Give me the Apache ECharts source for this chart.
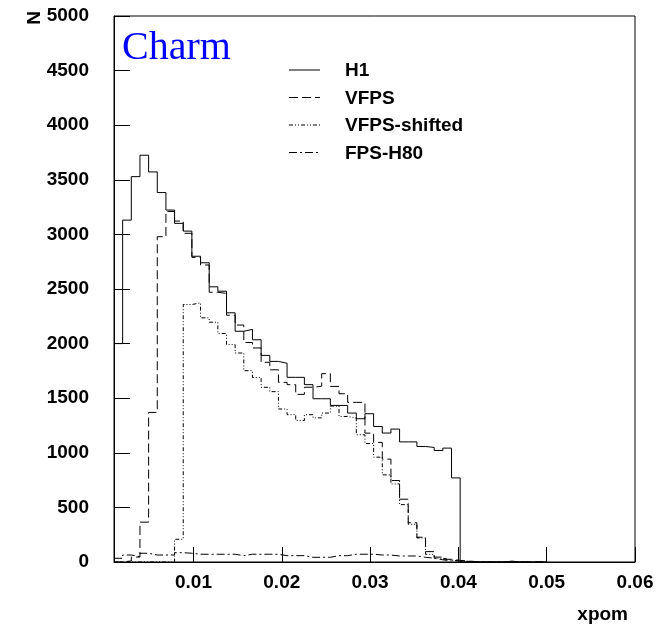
<!DOCTYPE html>
<html><head><meta charset="utf-8">
<script src="https://cdn.jsdelivr.net/npm/echarts@6/dist/echarts.min.js"></script>
<style>html,body{margin:0;padding:0;background:#fff}#c{width:657px;height:624px}</style>
</head><body><div id="c"></div>
<script>
// Histogram definition: 50 bins starting at binLow
const binLow = 0.001;
const binWidth = 0.00098;
const xTickValues = [0.01, 0.02, 0.03, 0.04, 0.05, 0.06];
const yTickInterval = 500;
const seriesNames = ['H1', 'VFPS', 'VFPS-shifted', 'FPS-H80'];

const h1 = [2000, 3131, 3529, 3725, 3572, 3383, 3223, 3101, 3030, 2800,
            2740, 2520, 2480, 2282, 2113, 2130, 2035, 1892, 1837, 1820,
            1691, 1691, 1624, 1495, 1495, 1434, 1434, 1364, 1312, 1358,
            1241, 1181, 1217, 1100, 1100, 1058, 1049, 1021, 1043, 770,
            0, 0, 0, 0, 0, 8, 0, 0, 0, 0];
const vfps = [0, 10, 45, 365, 1370, 2979, 3210, 3122, 3010, 2790,
              2720, 2470, 2460, 2260, 2170, 2010, 1960, 1829, 1760, 1645,
              1624, 1535, 1600, 1610, 1725, 1608, 1541, 1462, 1462, 1180,
              1095, 942, 746, 575, 360, 227, 95, 45, 25, 15,
              8, 3, 0, 0, 0, 0, 0, 0, 0, 0];
const vfpsShifted = [0, 0, 0, 0, 0, 0, 0, 208, 2358, 2373,
                     2236, 2196, 2092, 1991, 1914, 1752, 1690, 1600, 1560, 1401,
                     1349, 1296, 1349, 1320, 1364, 1428, 1333, 1318, 1165, 1085,
                     960, 798, 715, 525, 345, 220, 70, 35, 18, 10,
                     5, 0, 0, 0, 0, 0, 0, 0, 0, 0];
const fpsH80 = [34, 64, 49, 80, 64, 64, 64, 85, 80, 71,
                71, 71, 71, 71, 58, 71, 71, 71, 71, 58,
                58, 58, 43, 43, 43, 58, 58, 71, 71, 71,
                64, 64, 55, 55, 55, 43, 35, 20, 10, 10,
                6, 4, 3, 0, 0, 0, 0, 0, 0, 0];

const dashes = {
  'H1': 'solid',
  'VFPS': [9, 4],
  'VFPS-shifted': [4, 2, 1, 2, 1, 2],
  'FPS-H80': [8, 3, 2, 3]
};
const allValues = [h1, vfps, vfpsShifted, fpsH80];

function toSteps(vals) {
  const pts = vals.map((v, i) => [binLow + i * binWidth, v]);
  pts.push([binLow + vals.length * binWidth, 0]);
  return pts;
}

const FONT = "'Liberation Sans', Arial, Helvetica, sans-serif";
const chart = echarts.init(document.getElementById('c'), null, {renderer: 'canvas'});

const legendGraphics = [];
seriesNames.forEach((name, i) => {
  const y = 70 + i * 27.5;
  legendGraphics.push({
    type: 'line', shape: {x1: 289, y1: y, x2: 320, y2: y},
    style: {stroke: '#000', lineWidth: 1, lineDash: dashes[name] === 'solid' ? null : dashes[name]}
  });
  legendGraphics.push({
    type: 'text', x: 345, y: y + 1,
    style: {text: name, font: "bold 19px " + FONT, fill: '#000', verticalAlign: 'middle', align: 'left'}
  });
});

chart.setOption({
  animation: false,
  backgroundColor: '#fff',
  grid: {left: 114, right: 22, top: 16, bottom: 62, show: true, borderColor: '#000', borderWidth: 1},
  xAxis: {
    type: 'value', min: binLow, max: 0.06,
    axisLine: {show: true, onZero: false, lineStyle: {color: '#000', width: 1}},
    axisTick: {show: true, inside: true, length: 15, customValues: xTickValues, lineStyle: {color: '#000'}},
    axisLabel: {customValues: xTickValues, formatter: v => v.toFixed(2), color: '#000',
                fontFamily: FONT, fontWeight: 'bold', fontSize: 19, margin: 11},
    splitLine: {show: false}
  },
  yAxis: {
    type: 'value', min: 0, max: 5000, interval: yTickInterval,
    axisLine: {show: true, lineStyle: {color: '#000', width: 1}},
    axisTick: {show: true, inside: true, length: 16, lineStyle: {color: '#000'}},
    axisLabel: {formatter: v => String(v), color: '#000', fontFamily: FONT, fontWeight: 'bold', fontSize: 19, margin: 25},
    splitLine: {show: false}
  },
  series: seriesNames.map((name, i) => ({
    name: name, type: 'line', step: 'end', showSymbol: false, symbol: 'none',
    data: toSteps(allValues[i]),
    lineStyle: {color: '#000', width: 1, type: dashes[name]},
    z: 3 + (3 - i)
  })),
  graphic: [
    {type: 'text', x: 122, y: 48.5,
     style: {text: 'Charm', font: "40px 'Liberation Serif', 'Times New Roman', serif", fill: '#0000ff', verticalAlign: 'middle'}},
    {type: 'text', x: 628, y: 615,
     style: {text: 'xpom', font: "bold 19px " + FONT, fill: '#000', align: 'right', verticalAlign: 'middle'}},
    {type: 'text', x: 35, y: 18, rotation: Math.PI / 2,
     style: {text: 'N', font: "bold 19px " + FONT, fill: '#000', align: 'center', verticalAlign: 'middle'}}
  ].concat(legendGraphics)
});
</script>
</body></html>
